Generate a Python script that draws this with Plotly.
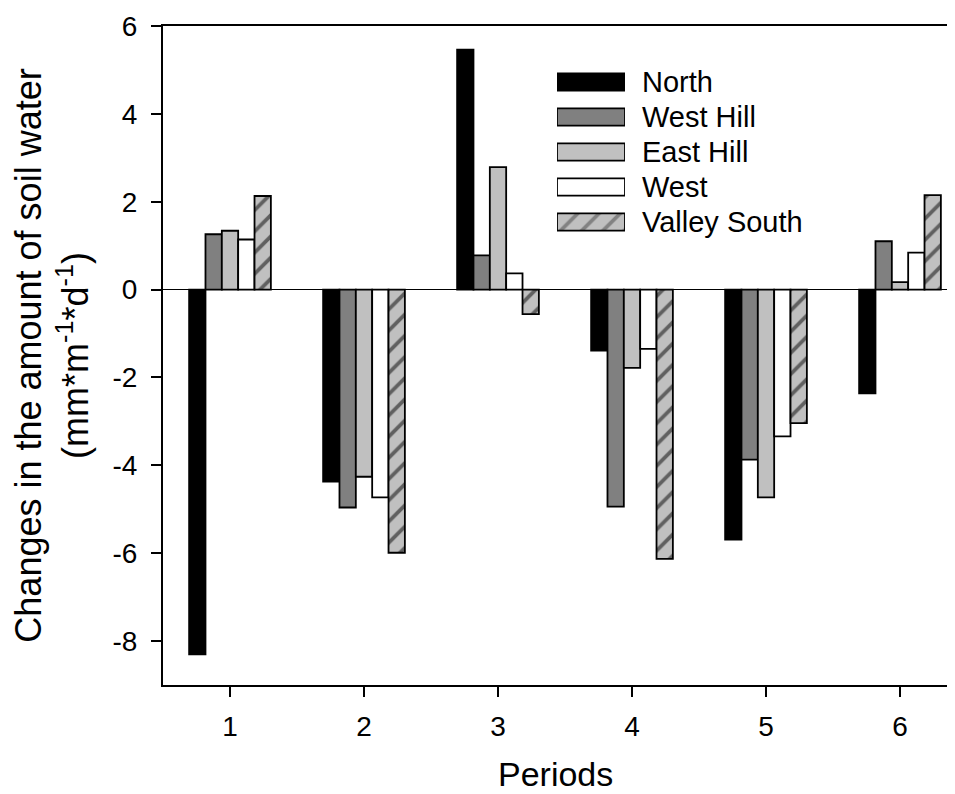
import plotly.graph_objects as go

periods = [1, 2, 3, 4, 5, 6]
series_names = ["North", "West Hill", "East Hill", "West", "Valley South"]
north = [-8.30, -4.37, 5.46, -1.39, -5.69, -2.36]
west_hill = [1.26, -4.96, 0.78, -4.94, -3.87, 1.10]
east_hill = [1.34, -4.26, 2.79, -1.78, -4.73, 0.17]
west = [1.14, -4.73, 0.37, -1.35, -3.34, 0.84]
valley_south = [2.13, -5.99, -0.56, -6.13, -3.04, 2.15]
y_ticks = [-8, -6, -4, -2, 0, 2, 4, 6]
x_title = "Periods"
y_title = "Changes in the amount of soil water<br>(mm*m<sup>-1</sup>*d<sup>-1</sup>)"

values = [north, west_hill, east_hill, west, valley_south]
fills = ["#000000", "#808080", "#c0c0c0", "#ffffff", "#c0c0c0"]
patterns = ["", "", "", "", "/"]

FONT = "Liberation Sans, Arial, sans-serif"
# page body has an 8px margin: compensate so the plot lands where the reference has it
OFF = 8
W, H = 939, 786
L, R, T = 163 - OFF, 0, 26 - OFF
B = H - (685 - OFF)
pw, ph = W - L - R, H - T - B
x_hi = 0.5 + pw / 134.0

fig = go.Figure()
for name, vals, col, pat in zip(series_names, values, fills, patterns):
    fig.add_trace(go.Bar(
        x=periods, y=vals, name=name, showlegend=False,
        marker=dict(color=col, line=dict(color="black", width=1.8),
                    pattern=dict(shape=pat, fgcolor="black", bgcolor="#c0c0c0",
                                 size=15, solidity=0.25)),
    ))

# legend swatches drawn as a small horizontal bar subplot
fig.add_trace(go.Bar(
    x=[1] * len(series_names), y=series_names, orientation="h",
    xaxis="x2", yaxis="y2", width=0.49, showlegend=False, hoverinfo="skip",
    marker=dict(color=fills, line=dict(color="black", width=1.8),
                pattern=dict(shape=patterns, fgcolor="black", bgcolor="#c0c0c0",
                             size=15, solidity=0.25)),
))

def px_x(p):
    return (p - OFF - L) / pw

def px_y(p):
    return (H - B - (p - OFF)) / ph

fig.add_annotation(text=x_title, xref="paper", yref="paper",
                   x=px_x(555), y=px_y(774), xanchor="center", yanchor="middle",
                   showarrow=False, font=dict(size=34))

fig.update_layout(
    width=W, height=H,
    margin=dict(l=L, r=R, t=T, b=B, autoexpand=False),
    paper_bgcolor="white", plot_bgcolor="white",
    barmode="group", bargap=0.39, bargroupgap=0,
    font=dict(family=FONT, color="black"),
    xaxis=dict(
        range=[0.5, x_hi], tickvals=periods, ticktext=[str(p) for p in periods],
        showline=True, linecolor="black", linewidth=2, mirror=True,
        ticks="outside", ticklen=10, tickwidth=2, tickcolor="black",
        showgrid=False, zeroline=False, automargin=False,
        tickfont=dict(size=28), ticklabelstandoff=5,
    ),
    yaxis=dict(
        range=[-9, 6], tickvals=y_ticks, ticktext=[str(v) for v in y_ticks],
        showline=True, linecolor="black", linewidth=2,
        ticks="outside", ticklen=10, tickwidth=2, tickcolor="black",
        showgrid=False, zeroline=True, zerolinecolor="black", zerolinewidth=1,
        automargin=False,
        tickfont=dict(size=28), ticklabelstandoff=8,
        title=dict(text=y_title, font=dict(size=36), standoff=16),
    ),
    xaxis2=dict(domain=[px_x(557), px_x(625)], range=[0, 1], anchor="y2",
                visible=False, fixedrange=True, automargin=False),
    yaxis2=dict(domain=[px_y(239.5), px_y(64.5)], anchor="x2", side="right",
                categoryorder="array", categoryarray=series_names[::-1],
                tickmode="array", tickvals=series_names, ticktext=series_names,
                showline=False, showgrid=False, zeroline=False, automargin=False,
                ticks="", tickfont=dict(size=29), ticklabelstandoff=16,
                fixedrange=True),
)

fig.write_html("out.html")
